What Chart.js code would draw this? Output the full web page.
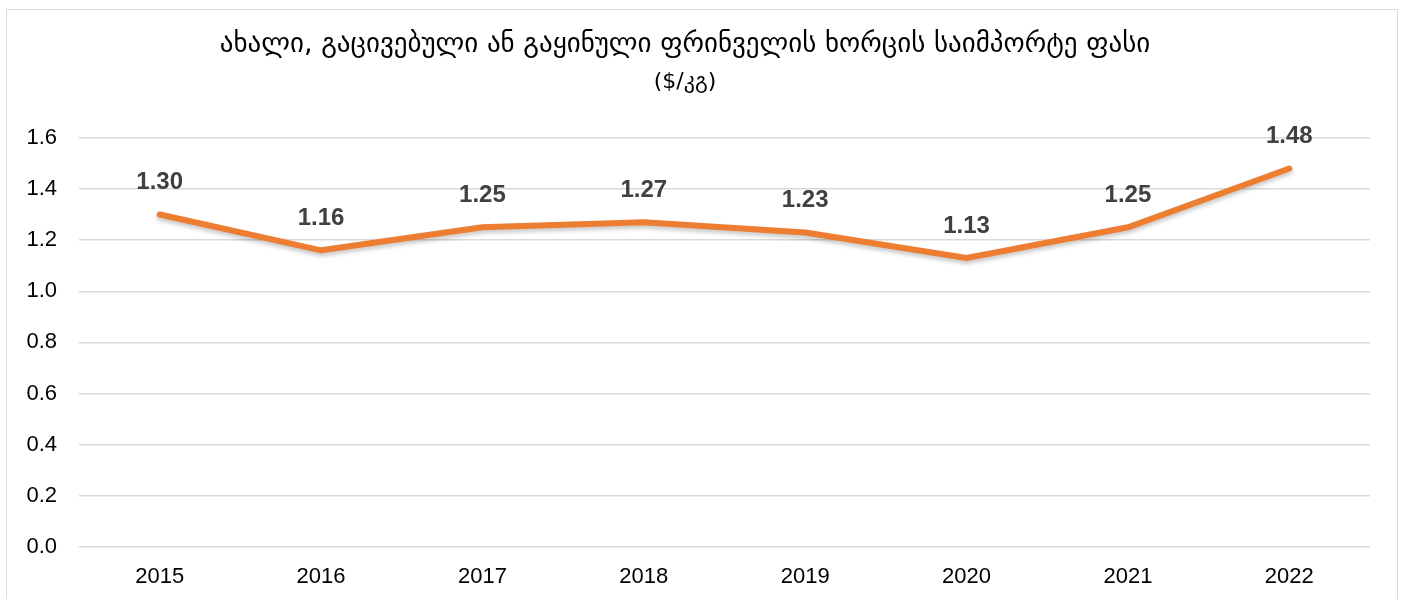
<!DOCTYPE html>
<html>
<head>
<meta charset="utf-8">
<script src="https://cdn.jsdelivr.net/npm/chart.js@4"></script>
<style>
html,body{margin:0;padding:0;background:#fff;overflow:hidden}
#wrap{position:relative;width:1404px;height:599px}
#frame{position:absolute;left:6px;top:9px;width:1392px;height:620px;border:1.5px solid #d9d9d9;box-sizing:border-box;pointer-events:none}
canvas{position:absolute;left:0;top:0}
</style>
</head>
<body>
<div id="wrap">
<canvas id="c" width="1404" height="599"></canvas>
<div id="frame"></div>
</div>
<script>
const titleText = "ახალი, გაცივებული ან გაყინული ფრინველის ხორცის საიმპორტე ფასი";
const subtitleText = "($/კგ)";
const years = ["2015","2016","2017","2018","2019","2020","2021","2022"];
const prices = [1.30, 1.16, 1.25, 1.27, 1.23, 1.13, 1.25, 1.48];

const shadowPlugin = {
  id: 'lineShadow',
  beforeDatasetDraw(chart) {
    const ctx = chart.ctx;
    ctx.save();
    ctx.shadowColor = 'rgba(0,0,0,0.22)';
    ctx.shadowBlur = 4;
    ctx.shadowOffsetY = 3;
  },
  afterDatasetDraw(chart) { chart.ctx.restore(); }
};

const labelPlugin = {
  id: 'valueLabels',
  afterDatasetsDraw(chart) {
    const ctx = chart.ctx;
    const meta = chart.getDatasetMeta(0);
    ctx.save();
    ctx.font = 'bold 24px "Liberation Sans", Arial, sans-serif';
    ctx.fillStyle = '#404040';
    ctx.textAlign = 'center';
    ctx.textBaseline = 'middle';
    meta.data.forEach((pt, i) => {
      ctx.fillText(prices[i].toFixed(2), pt.x, pt.y - 32);
    });
    ctx.restore();
  }
};

new Chart(document.getElementById('c'), {
  type: 'line',
  data: {
    labels: years,
    datasets: [{
      data: prices,
      borderColor: '#ED7D31',
      borderWidth: 6,
      borderCapStyle: 'round',
      borderJoinStyle: 'round',
      pointRadius: 0,
      pointHoverRadius: 0,
      tension: 0,
      fill: false
    }]
  },
  options: {
    responsive: false,
    animation: false,
    events: [],
    layout: { padding: { top: 29, right: 34, left: 0, bottom: 0 } },
    plugins: {
      legend: { display: false },
      tooltip: { enabled: false },
      title: {
        display: true,
        text: titleText,
        color: '#000',
        font: { family: '"DejaVu Sans", "Noto Sans", sans-serif', size: 27, weight: 'normal', lineHeight: 1.2 },
        padding: { top: 0, bottom: 0 }
      },
      subtitle: {
        display: true,
        text: subtitleText,
        color: '#000',
        font: { family: '"DejaVu Sans", "Noto Sans", sans-serif', size: 22, weight: 'normal', lineHeight: 1.2 },
        padding: { top: 8, bottom: 42 }
      }
    },
    scales: {
      x: {
        offset: true,
        grid: { display: false, drawTicks: false },
        border: { display: false },
        ticks: { color: '#000', padding: 17, font: { family: '"Liberation Sans", Arial, sans-serif', size: 22 } },
        afterFit(s) { s.height = 52; }
      },
      y: {
        min: 0, max: 1.6,
        grid: { color: '#d9d9d9', lineWidth: 1.5, drawTicks: false },
        border: { display: false },
        ticks: {
          stepSize: 0.2, color: '#000', padding: 22,
          font: { family: '"Liberation Sans", Arial, sans-serif', size: 22 },
          callback: v => Number(v).toFixed(1)
        },
        afterFit(s) { s.width = 79; }
      }
    }
  },
  plugins: [shadowPlugin, labelPlugin]
});
</script>
</body>
</html>
